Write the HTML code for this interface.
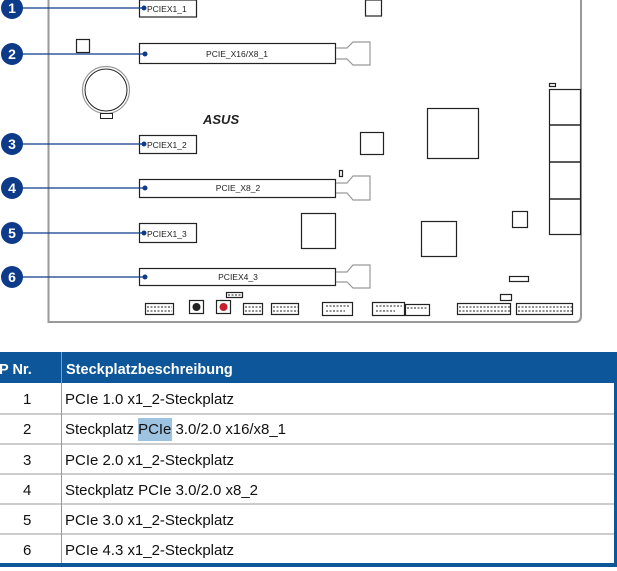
<!DOCTYPE html>
<html><head><meta charset="utf-8"><style>
html,body{margin:0;padding:0;background:#fff;width:617px;height:571px;overflow:hidden}
svg{display:block}
.lbl{font-family:"Liberation Sans",sans-serif;font-size:8.5px;fill:#222}
.num{font-family:"Liberation Sans",sans-serif;font-size:14px;font-weight:bold;fill:#fff}
.tx{font-family:"Liberation Sans",sans-serif;font-size:15px;fill:#111}
.hd{font-family:"Liberation Sans",sans-serif;font-size:14.5px;font-weight:bold;fill:#fff}
</style></head><body>
<svg width="617" height="571" viewBox="0 0 617 571" xmlns="http://www.w3.org/2000/svg">
<!-- board outline -->
<path d="M48.5 0 V322 H575 Q581 322 581 316 V0" fill="none" stroke="#999" stroke-width="2"/>
<g fill="none" stroke="#222" stroke-width="1.2">
<!-- slots -->
<rect x="139.5" y="0" width="57" height="17"/>
<rect x="139.5" y="43.5" width="196" height="20"/>
<rect x="139.5" y="135.5" width="57" height="18"/>
<rect x="139.5" y="179.5" width="196" height="18"/>
<rect x="139.5" y="223.5" width="57" height="19"/>
<rect x="139.5" y="268.5" width="196" height="17"/>
<!-- misc -->
<rect x="76.5" y="39.5" width="13" height="13"/>
<rect x="365.5" y="0" width="16" height="16"/>
<rect x="360.5" y="132.5" width="23" height="22"/>
<rect x="427.5" y="108.5" width="51" height="50"/>
<rect x="301.5" y="213.5" width="34" height="35"/>
<rect x="421.5" y="221.5" width="35" height="35"/>
<rect x="512.5" y="211.5" width="15" height="16"/>
<rect x="549.5" y="89.5" width="31" height="145"/>
<rect x="549.5" y="83.5" width="6" height="3"/>
<rect x="339.5" y="170.5" width="3" height="6"/>
<rect x="509.5" y="276.5" width="19" height="5"/>
</g>
<g stroke="#222" stroke-width="1.6">
<line x1="549" y1="125" x2="581" y2="125"/><line x1="549" y1="162" x2="581" y2="162"/><line x1="549" y1="199" x2="581" y2="199"/>
</g>
<!-- slot end connectors -->
<g fill="none" stroke="#999" stroke-width="1.2">
<path d="M336 48 H347 L353 42 H370 V65 H353 L347 59 H336"/>
<path d="M336 183 H347 L353 176 H370 V200 H353 L347 193 H336"/>
<path d="M336 272 H347 L353 265 H370 V288 H353 L347 282 H336"/>
<circle cx="106" cy="90" r="23.5"/>
</g>
<circle cx="106" cy="90" r="21" fill="none" stroke="#222" stroke-width="1"/>
<rect x="100.5" y="113.5" width="12" height="5" fill="#fff" stroke="#222"/>
<text x="203" y="124" font-family="Liberation Sans,sans-serif" font-size="13" font-weight="bold" font-style="italic" fill="#222">ASUS</text>
<!-- slot labels -->
<text class="lbl" x="147" y="12">PCIEX1_1</text>
<text class="lbl" x="237" y="57" text-anchor="middle">PCIE_X16/X8_1</text>
<text class="lbl" x="147" y="148">PCIEX1_2</text>
<text class="lbl" x="238" y="191" text-anchor="middle">PCIE_X8_2</text>
<text class="lbl" x="147" y="237">PCIEX1_3</text>
<text class="lbl" x="238" y="280" text-anchor="middle">PCIEX4_3</text>
<!-- callouts -->
<g stroke="#0d3b8a" stroke-width="1.3">
<line x1="20" y1="8" x2="144" y2="8"/><line x1="20" y1="54" x2="144" y2="54"/>
<line x1="20" y1="144" x2="144" y2="144"/><line x1="20" y1="188" x2="144" y2="188"/>
<line x1="20" y1="233" x2="144" y2="233"/><line x1="20" y1="277" x2="144" y2="277"/>
</g>
<g fill="#0d3b8a">
<circle cx="144" cy="8" r="2.5"/><circle cx="145" cy="54" r="2.5"/><circle cx="144" cy="144" r="2.5"/>
<circle cx="145" cy="188" r="2.5"/><circle cx="144" cy="233" r="2.5"/><circle cx="145" cy="277" r="2.5"/>
<circle cx="12" cy="8" r="11"/><circle cx="12" cy="54" r="11"/><circle cx="12" cy="144" r="11"/>
<circle cx="12" cy="188" r="11"/><circle cx="12" cy="233" r="11"/><circle cx="12" cy="277" r="11"/>
</g>
<g class="num" text-anchor="middle">
<text class="num" x="12" y="13">1</text><text class="num" x="12" y="59">2</text><text class="num" x="12" y="149">3</text>
<text class="num" x="12" y="193">4</text><text class="num" x="12" y="238">5</text><text class="num" x="12" y="282">6</text>
</g>
<!-- bottom headers -->
<g fill="none" stroke="#222" stroke-width="1.2">
<rect x="145.5" y="303.5" width="28" height="11"/>
<rect x="189.5" y="300.5" width="14" height="13"/>
<rect x="216.5" y="300.5" width="14" height="13"/>
<rect x="226.5" y="292.5" width="16" height="5"/>
<rect x="243.5" y="303.5" width="19" height="11"/>
<rect x="271.5" y="303.5" width="27" height="11"/>
<rect x="322.5" y="302.5" width="30" height="13"/>
<rect x="372.5" y="302.5" width="32" height="13"/>
<rect x="405.5" y="304.5" width="24" height="11"/>
<rect x="457.5" y="303.5" width="53" height="11"/>
<rect x="500.5" y="294.5" width="11" height="6"/>
<rect x="516.5" y="303.5" width="56" height="11"/>
</g>
<g stroke="#222" stroke-width="1" stroke-dasharray="2 1.5">
<line x1="147" y1="307" x2="172" y2="307"/><line x1="147" y1="311" x2="172" y2="311"/>
<line x1="245" y1="307" x2="262" y2="307"/><line x1="245" y1="311" x2="262" y2="311"/>
<line x1="273" y1="307" x2="298" y2="307"/><line x1="273" y1="311" x2="298" y2="311"/>
<line x1="326" y1="306" x2="350" y2="306"/><line x1="326" y1="311" x2="345" y2="311"/>
<line x1="376" y1="306" x2="402" y2="306"/><line x1="376" y1="311" x2="395" y2="311"/>
<line x1="407" y1="308" x2="428" y2="308"/>
<line x1="459" y1="307" x2="510" y2="307"/><line x1="459" y1="311" x2="510" y2="311"/>
<line x1="518" y1="307" x2="572" y2="307"/><line x1="518" y1="311" x2="572" y2="311"/>
<line x1="228" y1="295" x2="242" y2="295"/>
</g>
<circle cx="196.5" cy="307" r="4" fill="#222"/>
<circle cx="223.5" cy="307" r="4" fill="#c62030"/>
<!-- table -->
<rect x="0" y="352" width="617" height="31" fill="#0d5699"/>
<rect x="614" y="352" width="3" height="215" fill="#0d5699"/>
<rect x="0" y="563" width="617" height="4" fill="#0d5699"/>
<line x1="61.5" y1="352" x2="61.5" y2="563" stroke="#999" stroke-width="1"/>
<g stroke="#999" stroke-width="1">
<line x1="0" y1="414" x2="614" y2="414"/><line x1="0" y1="444" x2="614" y2="444"/>
<line x1="0" y1="474" x2="614" y2="474"/><line x1="0" y1="504" x2="614" y2="504"/>
<line x1="0" y1="534" x2="614" y2="534"/>
</g>
<text class="hd" x="-1" y="374">P Nr.</text>
<text class="hd" x="66" y="374">Steckplatzbeschreibung</text>
<rect x="138" y="418" width="34" height="23" fill="#9dc3e0"/>
<g class="tx">
<text class="tx" x="23" y="404">1</text><text class="tx" x="23" y="434">2</text><text class="tx" x="23" y="465">3</text>
<text class="tx" x="23" y="495">4</text><text class="tx" x="23" y="525">5</text><text class="tx" x="23" y="555">6</text>
<text class="tx" x="65" y="404" textLength="169">PCIe 1.0 x1_2-Steckplatz</text>
<text class="tx" x="65" y="434" textLength="221">Steckplatz PCIe 3.0/2.0 x16/x8_1</text>
<text class="tx" x="65" y="465" textLength="169">PCIe 2.0 x1_2-Steckplatz</text>
<text class="tx" x="65" y="495" textLength="193">Steckplatz PCIe 3.0/2.0 x8_2</text>
<text class="tx" x="65" y="525" textLength="169">PCIe 3.0 x1_2-Steckplatz</text>
<text class="tx" x="65" y="555" textLength="169">PCIe 4.3 x1_2-Steckplatz</text>
</g>
</svg>
</body></html>
